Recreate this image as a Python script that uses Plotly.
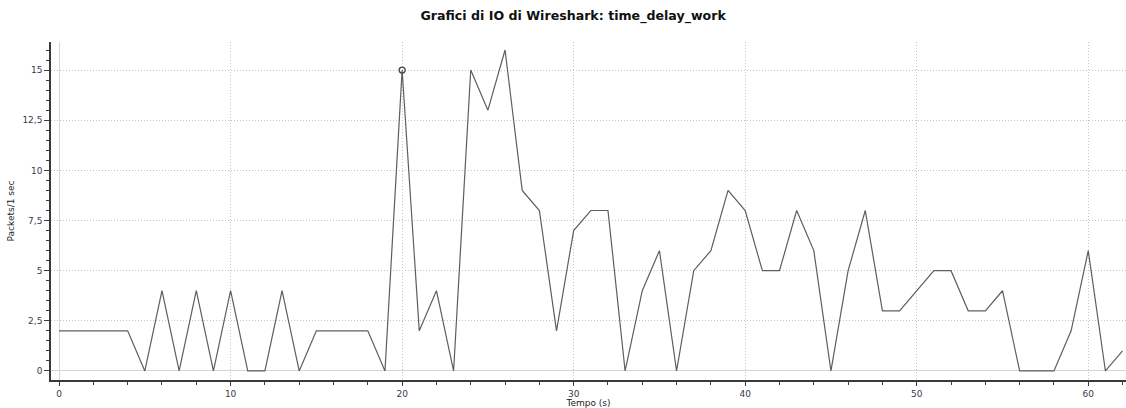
import plotly.graph_objects as go

# Packets counted per 1-second interval
seconds = list(range(0, 63))
packets = [2, 2, 2, 2, 2, 0, 4, 0, 4, 0, 4, 0, 0, 4, 0, 2, 2, 2, 2, 0,
           15, 2, 4, 0, 15, 13, 16, 9, 8, 2, 7, 8, 8, 0, 4, 6, 0, 5, 6, 9,
           8, 5, 5, 8, 6, 0, 5, 8, 3, 3, 4, 5, 5, 3, 3, 4, 0, 0, 0, 2,
           6, 0, 1]

# Highlighted sample
marked_x = [20]
marked_y = [15]

x_tick_vals = [0, 10, 20, 30, 40, 50, 60]
x_tick_text = ["0", "10", "20", "30", "40", "50", "60"]
y_tick_vals = [0, 2.5, 5, 7.5, 10, 12.5, 15]
y_tick_text = ["0", "2,5", "5", "7,5", "10", "12,5", "15"]

title_text = "Grafici di IO di Wireshark: time_delay_work"
x_title = "Tempo (s)"
y_title = "Packets/1 sec"

line_color = "#5e5e5e"
axis_color = "#3a3a3a"
grid_color = "#c4c4c4"
zero_color = "#d6d6d6"
tick_font = dict(family="DejaVu Sans", size=9, color="#3a3a4a")

fig = go.Figure()
fig.add_trace(go.Scatter(
    x=seconds, y=packets, mode="lines",
    line=dict(color=line_color, width=1.2),
    hoverinfo="x+y", showlegend=False,
))
fig.add_trace(go.Scatter(
    x=marked_x, y=marked_y, mode="markers",
    marker=dict(symbol="circle-open", size=6, color="#444444",
                line=dict(width=1.3, color="#444444")),
    showlegend=False,
))

fig.update_layout(
    width=1126, height=408,
    margin=dict(l=51, r=0, t=42, b=28),
    paper_bgcolor="white", plot_bgcolor="white",
    title=dict(text="<b>" + title_text + "</b>", x=0.509, xanchor="center",
               y=0.962, yanchor="middle",
               font=dict(family="DejaVu Sans", size=12.6, color="#111111")),
)

fig.update_xaxes(
    range=[-0.47, 62.2],
    tickvals=x_tick_vals, ticktext=x_tick_text,
    ticks="outside", ticklen=4, tickwidth=1, tickcolor=axis_color,
    showline=True, linecolor=axis_color, linewidth=1.5,
    showgrid=True, gridcolor=grid_color, griddash="1px,2px", gridwidth=1,
    zeroline=True, zerolinecolor=zero_color, zerolinewidth=1,
    minor=dict(dtick=2, tick0=0, ticks="outside", ticklen=3,
               tickcolor=axis_color, showgrid=False),
    tickfont=tick_font,
    title=dict(text=x_title, standoff=2,
               font=dict(family="DejaVu Sans", size=9, color="#222222")),
    mirror=False,
)
fig.update_yaxes(
    range=[-0.45, 16.4],
    tickvals=y_tick_vals, ticktext=y_tick_text,
    ticks="outside", ticklen=5, tickwidth=1, tickcolor=axis_color,
    showline=True, linecolor=axis_color, linewidth=1.5,
    showgrid=True, gridcolor=grid_color, griddash="1px,2px", gridwidth=1,
    zeroline=True, zerolinecolor=zero_color, zerolinewidth=1,
    minor=dict(dtick=0.5, tick0=0, ticks="outside", ticklen=3,
               tickcolor=axis_color, showgrid=False),
    tickfont=tick_font,
    title=dict(text=y_title, standoff=6,
               font=dict(family="DejaVu Sans", size=9, color="#222222")),
)

fig.write_html("out.html")
